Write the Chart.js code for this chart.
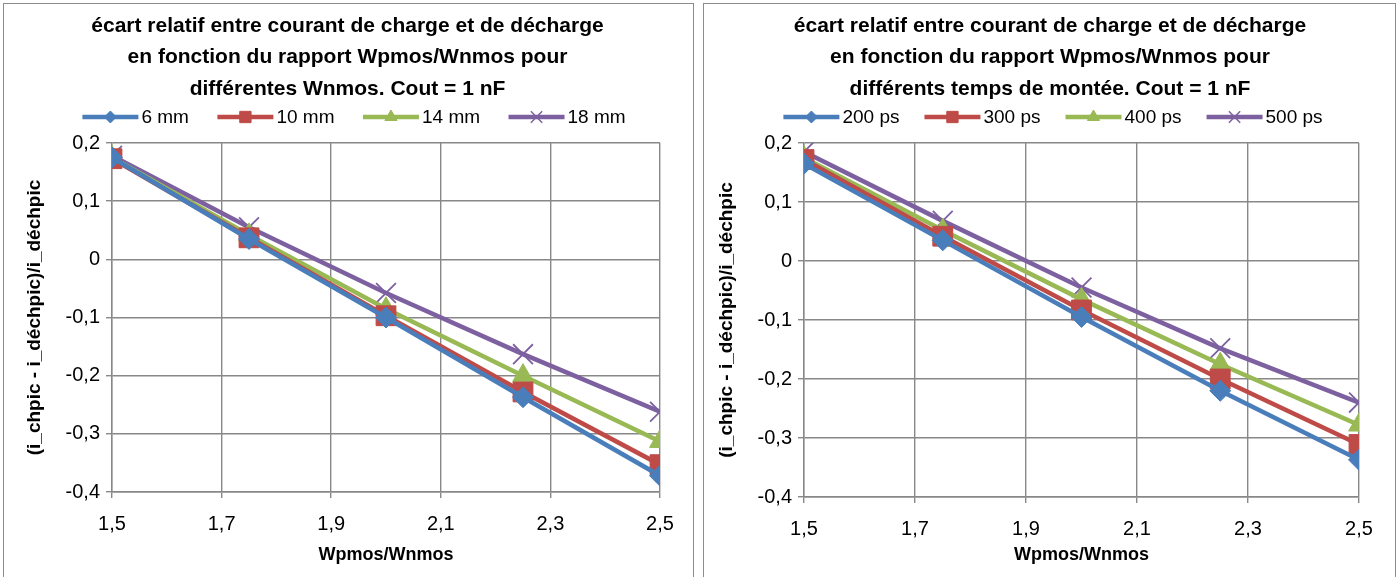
<!DOCTYPE html>
<html lang="fr">
<head>
<meta charset="UTF-8">
<title>écart relatif entre courant de charge et de décharge</title>
<script src="https://cdn.jsdelivr.net/npm/chart.js"></script>
<style>
  body { margin: 0; background: #fff; width: 1399px; height: 577px; overflow: hidden; position: relative; }
  .panel { position: absolute; top: 3px; height: 600px; border: 1.5px solid #8c8c8c; box-sizing: border-box; }
  .wrap { position: absolute; top: 0; height: 577px; }
</style>
</head>
<body>
<div class="panel" style="left:3px;width:691px"></div>
<div class="panel" style="left:703px;width:693px"></div>
<div class="wrap" style="left:0;width:699px"><canvas id="chartW"></canvas></div>
<div class="wrap" style="left:699px;width:700px"><canvas id="chartT"></canvas></div>

<script>
// x values: Wpmos/Wnmos
const ratios = [1.5, 1.75, 2, 2.25, 2.5];

// left chart: different Wnmos
const widthLabels = ["6 mm", "10 mm", "14 mm", "18 mm"];
const w6mm  = [0.175, 0.035, -0.100, -0.237, -0.372];
const w10mm = [0.173, 0.037, -0.097, -0.228, -0.353];
const w14mm = [0.175, 0.042, -0.085, -0.200, -0.313];
const w18mm = [0.178, 0.055, -0.058, -0.163, -0.262];

// right chart: different rise times
const riseLabels = ["200 ps", "300 ps", "400 ps", "500 ps"];
const t200ps = [0.165, 0.035, -0.095, -0.220, -0.337];
const t300ps = [0.172, 0.042, -0.083, -0.200, -0.311];
const t400ps = [0.175, 0.052, -0.065, -0.175, -0.278];
const t500ps = [0.185, 0.068, -0.045, -0.148, -0.240];

const titleW = ["écart relatif entre courant de charge et de décharge",
                "en fonction du rapport Wpmos/Wnmos pour",
                "différentes Wnmos. Cout = 1 nF"];
const titleT = ["écart relatif entre courant de charge et de décharge",
                "en fonction du rapport Wpmos/Wnmos pour",
                "différents temps de montée. Cout = 1 nF"];

const FONT = "'Liberation Sans', Arial, sans-serif";
const colors = ["#4a7ebb", "#be4b48", "#98b954", "#7d60a0"];
const styles = [
  { pointStyle: "rectRot", radius: 10.5, legend: 6 },
  { pointStyle: "rect", radius: 14, legend: 8 },
  { pointStyle: "triangle", radius: 12, legend: 7 },
  { pointStyle: "crossRot", radius: 14, legend: 8 }
];
const gridColor = "#888888";

function fmt(v) {
  const r = Math.round(v * 10) / 10;
  return String(r).replace(".", ",");
}

// spreadsheet style legend: short line with the marker in the middle
const lineLegend = {
  id: "lineLegend",
  afterDraw(chart, args, opts) {
    const ctx = chart.ctx;
    const sets = chart.data.datasets;
    ctx.save();
    ctx.font = "19px " + FONT;
    const lineLen = 56, gapText = 3, gapItem = opts.gap;
    const widths = sets.map(d => ctx.measureText(d.label).width);
    let total = gapItem * (sets.length - 1);
    widths.forEach(w => { total += lineLen + gapText + w; });
    let x = opts.centerX - total / 2;
    const y = opts.y;
    sets.forEach((d, i) => {
      ctx.strokeStyle = colors[i];
      ctx.fillStyle = colors[i];
      ctx.lineWidth = 4.5;
      ctx.beginPath(); ctx.moveTo(x, y); ctx.lineTo(x + lineLen, y); ctx.stroke();
      ctx.lineWidth = i === 3 ? 1.5 : 1;
      Chart.helpers.drawPoint(ctx, {
        pointStyle: styles[i].pointStyle, radius: styles[i].legend,
        rotation: 0, borderWidth: ctx.lineWidth
      }, x + lineLen / 2, y);
      ctx.fillStyle = "#000";
      ctx.textBaseline = "middle";
      ctx.textAlign = "left";
      ctx.fillText(d.label, x + lineLen + gapText, y + 1);
      x += lineLen + gapText + widths[i] + gapItem;
    });
    ctx.restore();
  }
};

function makeChart(id, titleLines, labels, series, geo) {
  const datasets = series.map((vals, i) => ({
    label: labels[i],
    data: ratios.map((x, k) => ({ x: x, y: vals[k] })),
    borderColor: colors[i],
    backgroundColor: colors[i],
    borderWidth: 4.5,
    pointStyle: styles[i].pointStyle,
    pointRadius: styles[i].radius,
    pointBorderWidth: i === 3 ? 1.8 : 1,
    pointBorderColor: colors[i],
    pointBackgroundColor: colors[i],
    tension: 0
  }));

  return new Chart(document.getElementById(id), {
    type: "line",
    data: { datasets: datasets },
    plugins: [lineLegend],
    options: {
      responsive: true,
      maintainAspectRatio: false,
      animation: false,
      layout: { padding: { left: geo.left, right: geo.right, top: 10, bottom: 0 } },
      plugins: {
        title: {
          display: true,
          text: titleLines,
          color: "#000",
          font: { family: FONT, size: 21, weight: "bold", lineHeight: 1.5 },
          padding: { top: 0, bottom: geo.titleBottom }
        },
        legend: { display: false },
        lineLegend: { centerX: geo.legendX, y: 117, gap: geo.legendGap },
        tooltip: { enabled: false }
      },
      scales: {
        x: {
          type: "linear",
          min: 1.5, max: 2.5,
          afterFit: s => { s.height = geo.xHeight; },
          ticks: { stepSize: 0.2, color: "#000", font: { family: FONT, size: 20 }, padding: 14, callback: fmt },
          grid: { color: gridColor, lineWidth: 1.4, tickLength: 6 },
          border: { color: gridColor, width: 1.4 },
          title: { display: true, text: "Wpmos/Wnmos", color: "#000",
                   font: { family: FONT, size: 18, weight: "bold" }, padding: { top: 0, bottom: 11 } }
        },
        y: {
          min: -0.4, max: 0.2,
          afterFit: s => { s.width = geo.yWidth; },
          ticks: { stepSize: 0.1, color: "#000", font: { family: FONT, size: 20 }, padding: 6, callback: fmt },
          grid: { color: gridColor, lineWidth: 1.4, tickLength: 6 },
          border: { color: gridColor, width: 1.4 },
          title: { display: true, text: "(i_chpic - i_déchpic)/i_déchpic", color: "#000",
                   font: { family: FONT, size: 19, weight: "bold" }, padding: { top: geo.titlePad, bottom: 0 } }
        }
      }
    }
  });
}

makeChart("chartW", titleW, widthLabels, [w6mm, w10mm, w14mm, w18mm],
          { left: 35, yWidth: 77, xHeight: 85, right: 39, titlePad: -11.4, titleBottom: 38.5,
            legendX: 354, legendGap: 28.5 });
makeChart("chartT", titleT, riseLabels, [t200ps, t300ps, t400ps, t500ps],
          { left: 42, yWidth: 63, xHeight: 80, right: 40, titlePad: -25.4, titleBottom: 38.5,
            legendX: 354, legendGap: 25 });
</script>
</body>
</html>
